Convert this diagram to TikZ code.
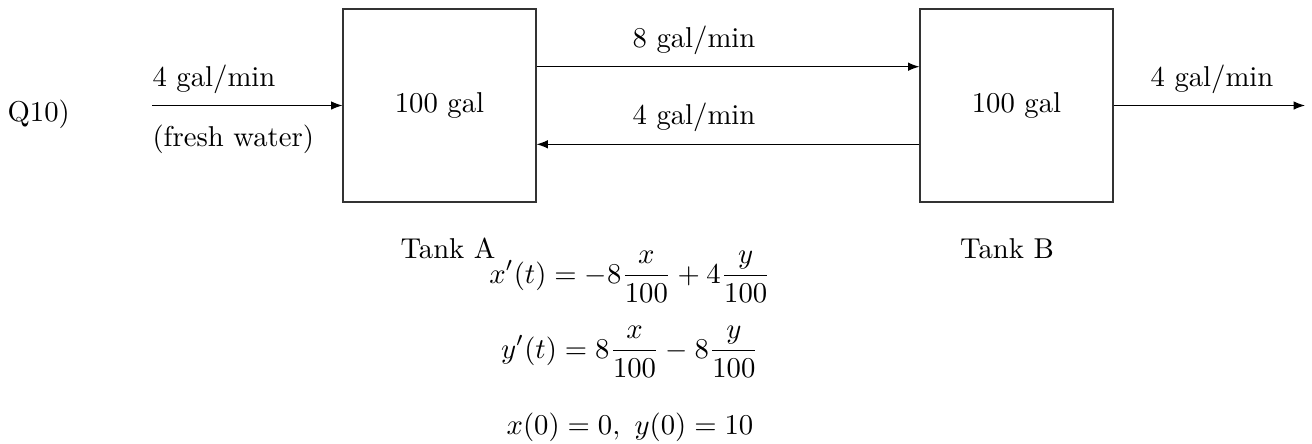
\documentclass[tikz,border=0pt]{standalone}
\usepackage{amsmath}
\usetikzlibrary{calc,arrows.meta}
\begin{document}
\begin{tikzpicture}[x=0.3484pt,y=-0.3484pt,
  tank/.style={draw=black!80,line width=0.4pt,minimum width=67.2pt,minimum height=67.2pt,inner sep=0pt},
  flow/.style={draw=black,line width=0.4pt,-{Latex[length=4pt,width=3pt]}},
  lbl/.style={inner sep=0pt,font=\normalsize},
  eqn/.style={inner sep=0pt,anchor=base}]
\useasboundingbox (0,0) rectangle (1312,443);
\node[tank] (A) at (439.5,105.5) {100 gal};
\node[tank] (B) at (1016.5,105.5) {100 gal};
\coordinate (in) at (152,105.5);
\coordinate (out) at (1305,105.5);
\draw[flow] (in) -- (A.west);
\draw[flow] (B.east) -- (out);
\draw[flow] ($(A.north east)!0.3!(A.south east)$) -- ($(B.north west)!0.3!(B.south west)$);
\draw[flow] ($(B.north west)!0.7!(B.south west)$) -- ($(A.north east)!0.7!(A.south east)$);
\node[lbl,anchor=base west] (q) at (7,121) {Q10)};
\node[lbl,anchor=base west] (inl) at (152,86) {4 gal/min};
\node[lbl,anchor=base west] (fw) at (152,146) {(fresh water)};
\node[lbl,anchor=base] (m1) at (694,47) {8 gal/min};
\node[lbl,anchor=base] (m2) at (694,124) {4 gal/min};
\node[lbl,anchor=base] (outl) at (1212,86) {4 gal/min};
\node[lbl,anchor=base] (ta) at (448,258) {Tank A};
\node[lbl,anchor=base] (tb) at (1007,258) {Tank B};
\node[eqn] (e1) at (630,283) {$\displaystyle x'(t)=-8\frac{x}{100}+4\frac{y}{100}$};
\node[eqn] (e2) at (630,358) {$\displaystyle y'(t)=8\frac{x}{100}-8\frac{y}{100}$};
\node[eqn] (e3) at (630,434) {$x(0)=0,\ y(0)=10$};
\end{tikzpicture}
\end{document}
